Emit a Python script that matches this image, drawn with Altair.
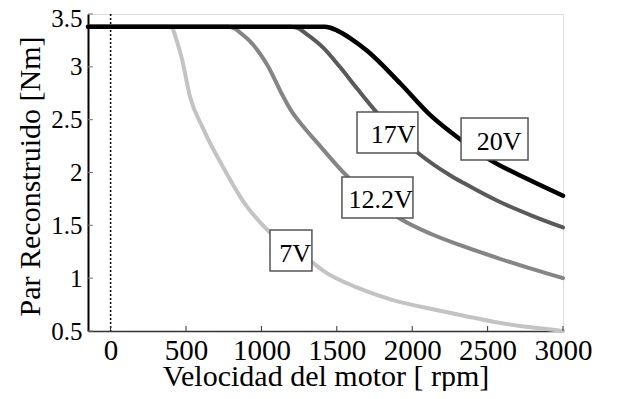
import altair as alt
import pandas as pd

FONT = "Liberation Serif"

# ---- data ----
v7_rpm = [-150, 380, 406, 440, 472, 526, 612, 758, 878, 1058, 1337, 1411, 1637, 1856, 2122, 2342, 2568, 2788, 3000]
v7_torque = [3.38, 3.38, 3.37, 3.24, 3.08, 2.72, 2.42, 2.02, 1.73, 1.43, 1.15, 1.07, 0.91, 0.80, 0.71, 0.645, 0.58, 0.535, 0.50]

v12_rpm = [-150, 780, 825, 870, 925, 1038, 1144, 1191, 1280, 1371, 1544, 1923, 2122, 2342, 2568, 2788, 3000]
v12_torque = [3.38, 3.38, 3.36, 3.31, 3.24, 3.02, 2.72, 2.60, 2.43, 2.28, 2.00, 1.56, 1.42, 1.30, 1.19, 1.09, 1.00]

v17_rpm = [-150, 1190, 1237, 1300, 1411, 1520, 1637, 1770, 2043, 2256, 2342, 2568, 2788, 3000]
v17_torque = [3.38, 3.38, 3.37, 3.31, 3.18, 3.00, 2.79, 2.56, 2.18, 1.97, 1.90, 1.73, 1.595, 1.48]

v20_rpm = [-150, 1420, 1457, 1500, 1590, 1703, 1923, 2122, 2322, 2516, 2761, 3000]
v20_torque = [3.38, 3.38, 3.37, 3.345, 3.27, 3.15, 2.84, 2.54, 2.31, 2.12, 1.94, 1.78]

series_names = ["7V", "12.2V", "17V", "20V"]
series_colors = ["#c3c3c3", "#858585", "#5a5a5a", "#000000"]

# label boxes (data units): left, right, top, bottom, text x, text baseline y
label_text = ["7V", "12.2V", "17V", "20V"]
box_left = [1057, 1534, 1634, 2324]
box_right = [1335, 2005, 2038, 2768]
box_top = [1.456, 1.957, 2.573, 2.516]
box_bottom = [1.068, 1.569, 2.185, 2.118]
text_x = [1223, 1790, 1873, 2576]
text_y = [1.153, 1.664, 2.279, 2.213]

x_ticks = [0, 500, 1000, 1500, 2000, 2500, 3000]
y_ticks = [0.5, 1, 1.5, 2, 2.5, 3, 3.5]

W, H = 475, 317
xs = alt.Scale(domain=[-150, 3000], nice=False, zero=False)
ys = alt.Scale(domain=[0.5, 3.5], nice=False, zero=False)

xaxis = alt.Axis(values=x_ticks, tickSize=0, labelFont=FONT, labelFontSize=29,
                 labelColor="black", labelPadding=5, labelFlush=False, labelOverlap=False,
                 labelExpr="'' + datum.value",
                 domainColor="#333333", domainWidth=1.5, grid=False,
                 title="Velocidad del motor [ rpm]", titleFont=FONT, titleFontSize=30,
                 titleFontWeight="normal", titleColor="black", titleY=54,
                 titleBaseline="alphabetic")
yaxis = alt.Axis(values=y_ticks, tickSize=0, labelFont=FONT, labelFontSize=25,
                 labelColor="black", labelPadding=6, labelFlush=False, labelOverlap=False,
                 labelExpr="'' + datum.value",
                 labelOffset={"condition": {"test": "datum.value == 3.5", "value": 4}, "value": 0},
                 domainColor="black", domainWidth=2, grid=False,
                 title="Par Reconstruido [Nm]", titleFont=FONT, titleFontSize=30,
                 titleFontWeight="normal", titleColor="black", titleAngle=270,
                 titleX=-43, titleY=162, titleBaseline="bottom", titleAlign="center")


def X(field):
    return alt.X(field, scale=xs, axis=xaxis)


def Y(field):
    return alt.Y(field, scale=ys, axis=yaxis)


layers = []

# dotted line at 0 rpm
zero_df = pd.DataFrame({"rpm": [0]})
layers.append(alt.Chart(zero_df).mark_rule(color="black", strokeWidth=1.5, strokeDash=[2, 2]).encode(
    x=X("rpm:Q")))

curves = [(v7_rpm, v7_torque), (v12_rpm, v12_torque), (v17_rpm, v17_torque), (v20_rpm, v20_torque)]
for i, (rx, ty) in enumerate(curves):
    df = pd.DataFrame({"rpm": rx, "torque": ty})
    layers.append(
        alt.Chart(df).mark_line(color=series_colors[i], strokeWidth=4.5 if i == 3 else 4,
                                strokeCap="round", interpolate="monotone").encode(
            x=X("rpm:Q"), y=Y("torque:Q"))
    )

# inward ticks
xt_df = pd.DataFrame({"rpm": x_ticks})
layers.append(alt.Chart(xt_df).mark_rule(color="#333333", strokeWidth=1).encode(
    x=X("rpm:Q"), y=alt.value(H), y2=alt.value(H - 5)))
yt_df = pd.DataFrame({"torque": y_ticks})
layers.append(alt.Chart(yt_df).mark_rule(color="#777777", strokeWidth=1).encode(
    y=Y("torque:Q"), x=alt.value(0), x2=alt.value(5)))

# label boxes
box_df = pd.DataFrame({"rpm": box_left, "rpm2": box_right, "torque": box_top, "torque2": box_bottom})
layers.append(alt.Chart(box_df).mark_rect(fill="white", stroke="#555555", strokeWidth=1.5).encode(
    x=X("rpm:Q"), x2="rpm2:Q", y=Y("torque:Q"), y2="torque2:Q"))
txt_df = pd.DataFrame({"rpm": text_x, "torque": text_y, "label": label_text})
layers.append(alt.Chart(txt_df).mark_text(font=FONT, fontSize=26, color="black",
                                          align="center", baseline="alphabetic").encode(
    x=X("rpm:Q"), y=Y("torque:Q"), text="label:N"))

chart = alt.layer(*layers).properties(
    width=W, height=H,
    autosize=alt.AutoSizeParams(type="none"),
    padding={"left": 80, "top": 6, "right": 59, "bottom": 60},
).configure_view(stroke=None).configure(background="white")

chart.save("out.html", embed_options={"renderer": "svg", "actions": False})
